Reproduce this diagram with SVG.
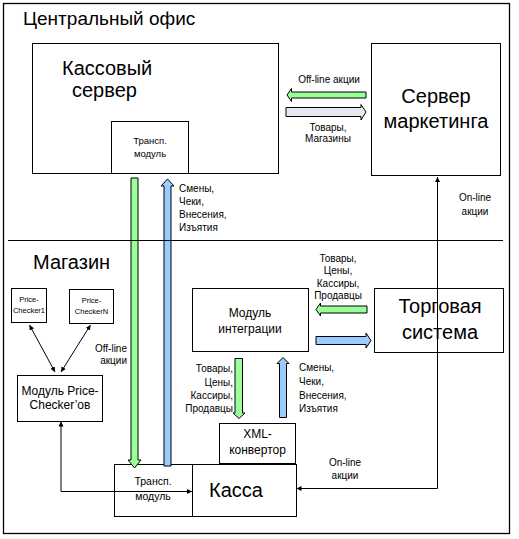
<svg xmlns="http://www.w3.org/2000/svg" width="519" height="539" viewBox="0 0 519 539">
<defs>
<style>
text{font-family:"Liberation Sans",Arial,sans-serif;fill:#000}
.box{fill:#fff;stroke:#000;stroke-width:1}
.big{font-size:20px}
.mid{font-size:12px}
.lbl{font-size:10px}
.sm{font-size:7.5px}
.c{text-anchor:middle}
.r{text-anchor:end}
.ln{fill:none;stroke:#000;stroke-width:1}
.g{fill:#99ff99;stroke:#000;stroke-width:1}
.b{fill:#99ccff;stroke:#000;stroke-width:1}
.w{fill:#e8e8f0;stroke:#000;stroke-width:1}
</style>
<marker id="ah" viewBox="0 0 8 8" refX="8" refY="4" markerWidth="5" markerHeight="5" orient="auto-start-reverse" markerUnits="userSpaceOnUse"><path d="M0,0 L8,4 L0,8 z" fill="#000"/></marker>
</defs>
<rect x="0" y="0" width="519" height="539" fill="#fff"/>
<rect x="3.5" y="3.5" width="506" height="530" fill="none" stroke="#000" stroke-width="1.3"/>
<text x="23" y="25" style="font-size:19px">Центральный офис</text>
<text x="33" y="269" class="big">Магазин</text>

<g id="cash-server">
<rect class="box" x="32.5" y="43.5" width="246" height="130"/>
<text x="62" y="75" class="big">Кассовый</text>
<text x="72" y="97" class="big">сервер</text>
</g>
<g id="transp-server">
<rect class="box" x="111.5" y="121.5" width="77" height="52"/>
<text x="150" y="144" class="c" style="font-size:9.5px">Трансп.</text>
<text x="150" y="157" class="c" style="font-size:9.5px">модуль</text>
</g>
<g id="marketing-server">
<rect class="box" x="371.5" y="43.5" width="129" height="132"/>
<text x="436" y="103" class="big c">Сервер</text>
<text x="436" y="128" class="big c">маркетинга</text>
</g>
<g id="trade-system">
<rect class="box" x="374.5" y="288.5" width="129" height="64"/>
<line x1="437.5" y1="288.5" x2="437.5" y2="352.5" stroke="#999" stroke-width="1"/>
<text x="440" y="313" class="big c">Торговая</text>
<text x="440" y="339" class="big c">система</text>
</g>
<g id="integration-module">
<rect class="box" x="192.5" y="288.5" width="116" height="63"/>
<text x="250" y="317" class="mid c">Модуль</text>
<text x="250" y="333" class="mid c">интеграции</text>
</g>
<g id="price-checker-1">
<rect class="box" x="11.5" y="288.5" width="35" height="34"/>
<text x="29" y="302" class="sm c">Price-</text>
<text x="29" y="313" class="sm c">Checker1</text>
</g>
<g id="price-checker-n">
<rect class="box" x="69.5" y="289.5" width="44" height="34"/>
<text x="91.5" y="303" class="sm c">Price-</text>
<text x="91.5" y="314" class="sm c">CheckerN</text>
</g>
<g id="price-checker-module">
<rect class="box" x="17.5" y="375.5" width="85" height="46"/>
<text x="60" y="395" class="mid c">Модуль Price-</text>
<text x="60" y="409" class="mid c">Checker’ов</text>
</g>
<g id="xml-converter">
<rect class="box" x="219.5" y="423.5" width="76" height="40"/>
<text x="257.5" y="438" class="mid c">XML-</text>
<text x="257.5" y="454" class="mid c">конвертор</text>
</g>
<g id="kassa-transp">
<rect class="box" x="114.5" y="464.5" width="78" height="52"/>
<text x="153" y="485" class="c" style="font-size:10.5px">Трансп.</text>
<text x="153" y="500" class="c" style="font-size:10.5px">модуль</text>
</g>
<g id="kassa">
<rect class="box" x="192.5" y="464.5" width="104" height="52"/>
<text x="236" y="497" class="big c">Касса</text>
</g>

<g id="connectors">
<polygon class="g" points="287,95 291.5,88.5 291.5,92 366,92 366,98 291.5,98 291.5,101.5"/>
<polygon class="w" points="366,112 361,104.5 361,107.5 286,107.5 286,116.5 361,116.5 361,120"/>
<polygon class="g" points="131,178 138,178 138,460 141,460 134.5,468 128,460 131,460"/>
<polygon class="b" points="167.5,179 174,186 171,186 171,466 164,466 164,186 161,186"/>
<polygon class="g" points="316,309.5 320.5,303 320.5,306 367,306 367,313 320.5,313 320.5,316"/>
<polygon class="b" points="371,340.5 366,333 366,336.5 316,336.5 316,344.5 366,344.5 366,348"/>
<polygon class="g" points="235,358.5 242.5,358.5 242.5,413 245,413 239,418.5 233,413 235,413"/>
<polygon class="b" points="283,357.5 289,363.5 286.5,363.5 286.5,417.5 279.5,417.5 279.5,363.5 277,363.5"/>
<line class="ln" x1="29.5" y1="325" x2="55" y2="372" marker-start="url(#ah)" marker-end="url(#ah)"/>
<line class="ln" x1="90.5" y1="325" x2="61" y2="372" marker-start="url(#ah)" marker-end="url(#ah)"/>
<polyline class="ln" points="61,421.5 61,491.5 192,491.5" marker-start="url(#ah)" marker-end="url(#ah)"/>
<polyline class="ln" points="437.5,177 437.5,488.5 296.5,488.5" marker-start="url(#ah)" marker-end="url(#ah)"/>
</g>
<line x1="8" y1="240.5" x2="503" y2="240.5" stroke="#000" stroke-width="1.2"/>

<text x="329" y="83" class="lbl c">Off-line акции</text>
<text x="328" y="131" class="lbl c">Товары,</text>
<text x="328" y="142" class="lbl c">Магазины</text>
<text x="179" y="192" class="lbl">Смены,</text>
<text x="179" y="205" class="lbl">Чеки,</text>
<text x="179" y="218" class="lbl">Внесения,</text>
<text x="179" y="231" class="lbl">Изъятия</text>
<text x="475" y="201" class="lbl c">On-line</text>
<text x="475" y="215" class="lbl c">акции</text>
<text x="338" y="262" class="lbl c">Товары,</text>
<text x="338" y="274" class="lbl c">Цены,</text>
<text x="338" y="287" class="lbl c">Кассиры,</text>
<text x="338" y="299" class="lbl c">Продавцы</text>
<text x="127" y="352" class="lbl r">Off-line</text>
<text x="127" y="364" class="lbl r">акции</text>
<text x="233" y="372" class="lbl r">Товары,</text>
<text x="233" y="386" class="lbl r">Цены,</text>
<text x="233" y="399" class="lbl r">Кассиры,</text>
<text x="233" y="412" class="lbl r">Продавцы</text>
<text x="299" y="371" class="lbl">Смены,</text>
<text x="299" y="385" class="lbl">Чеки,</text>
<text x="299" y="399" class="lbl">Внесения,</text>
<text x="299" y="412" class="lbl">Изъятия</text>
<text x="345" y="466" class="lbl c">On-line</text>
<text x="345" y="479" class="lbl c">акции</text>
</svg>
